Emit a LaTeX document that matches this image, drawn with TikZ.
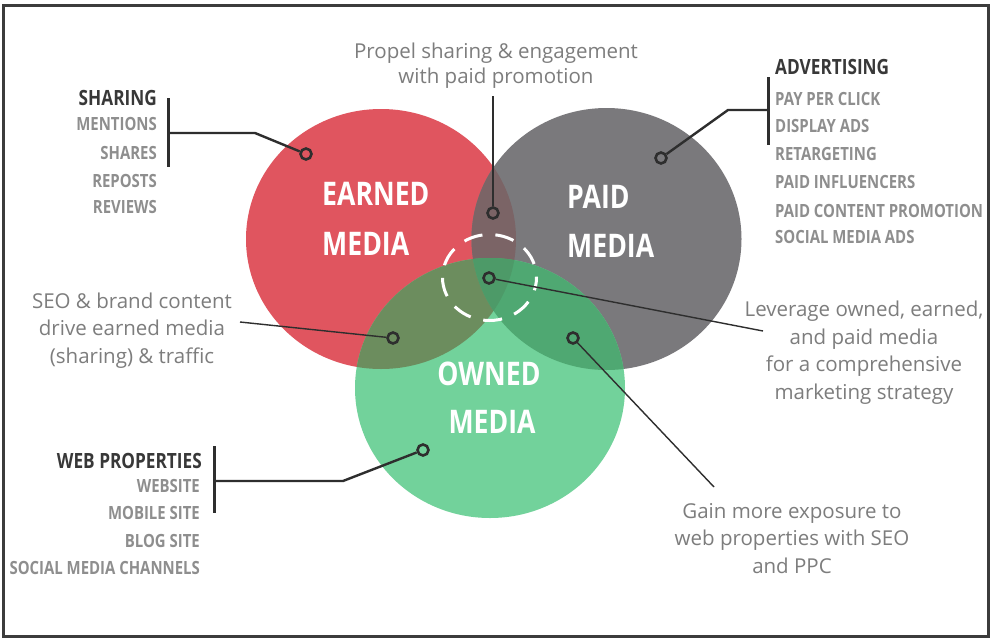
\documentclass[tikz,border=0pt]{standalone}
\usepackage{fontspec}
\setmainfont{Open Sans}
\newfontfamily\condb[FakeStretch=0.82]{Open Sans}

\definecolor{earned}{HTML}{E0555F}
\definecolor{paid}{HTML}{7A797C}
\definecolor{owned}{HTML}{72D29B}
\definecolor{earnpaid}{HTML}{7B6466}
\definecolor{earnown}{HTML}{6C8D5E}
\definecolor{paidown}{HTML}{4FA872}
\definecolor{allthree}{HTML}{4D9A68}
\definecolor{ink}{HTML}{2E2E2E}
\definecolor{headc}{HTML}{383838}
\definecolor{itemc}{HTML}{8E8E8E}
\definecolor{notec}{HTML}{7D7D7D}
\definecolor{framec}{HTML}{3C3C3C}

\begin{document}
\begin{tikzpicture}[x=1pt,y=-1pt,
  marker/.style={circle, draw=ink, line width=2.6pt, minimum size=11pt, inner sep=0pt},
  hook/.style={draw=ink, line width=2.4pt},
  bracket/.style={draw=ink, line width=3pt},
  pointer/.style={draw=ink, line width=1.4pt},
  head/.style={font=\condb\bfseries\fontsize{21}{21}\selectfont, text=headc, inner sep=0pt},
  item/.style={font=\condb\bfseries\fontsize{18.2}{18}\selectfont, text=itemc, inner sep=0pt},
  big/.style={font=\condb\bfseries\fontsize{32.5}{49}\selectfont, text=white, inner sep=0pt},
  note/.style={font=\fontsize{20.5}{27.5}\selectfont, text=notec, align=center, inner sep=0pt}
]
\useasboundingbox (0,0) rectangle (994,643);
\fill[white] (0,0) rectangle (994,643);
\draw[framec, line width=2.5pt] (3.5,5.5) rectangle (988.5,636.5);

% the three media circles
\def\redC{(381,239) ellipse [x radius=135, y radius=130]}
\def\grayC{(606.5,239) ellipse [x radius=135, y radius=131]}
\def\greenC{(490,388) ellipse [x radius=135, y radius=130]}
\fill[earned] \redC;
\fill[paid] \grayC;
\fill[owned] \greenC;
\begin{scope}
  \clip \redC;
  \fill[earnpaid] \grayC;
  \fill[earnown] \greenC;
\end{scope}
\begin{scope}
  \clip \grayC;
  \fill[paidown] \greenC;
  \clip \redC;
  \fill[allthree] \greenC;
\end{scope}

% dashed ring around the shared centre
\draw[white, line width=3pt, dash pattern=on 19pt off 13pt, dash phase=6pt]
  (489.5,277.5) ellipse [x radius=47, y radius=43];

% circle labels
\node[big, anchor=base west] (earnedA) at (322,205) {EARNED};
\node[big, anchor=base west] (earnedB) at (322,255) {MEDIA};
\node[big, anchor=base west] (paidA) at (567,208) {PAID};
\node[big, anchor=base west] (paidB) at (567,257) {MEDIA};
\node[big, anchor=base] (ownedA) at (489,385) {OWNED};
\node[big, anchor=base] (ownedB) at (492,433) {MEDIA};

% markers
\node[marker] (mEarned) at (306,154) {};
\node[marker] (mPaid) at (661,158) {};
\node[marker] (mEP) at (493,213) {};
\node[marker] (mAll) at (489,278) {};
\node[marker] (mEO) at (393,338) {};
\node[marker] (mPO) at (573,338) {};
\node[marker] (mOwned) at (423,450) {};

% SHARING list
\node[head, anchor=base east] (shHead) at (157,105) {SHARING};
\node[item, anchor=base east] (sh1) at (157,130) {MENTIONS};
\node[item, anchor=base east] (sh2) at (157,159) {SHARES};
\node[item, anchor=base east] (sh3) at (157,187) {REPOSTS};
\node[item, anchor=base east] (sh4) at (157,213) {REVIEWS};
\coordinate (shTop) at (168,98);
\coordinate (shBot) at (168,167);
\coordinate (shMid) at (168,133);
\coordinate (shKnee) at (255,133);
\draw[bracket] (shTop) -- (shBot);
\draw[hook] (shMid) -- (shKnee) -- (mEarned);

% ADVERTISING list
\node[head, anchor=base west] (adHead) at (775,74) {ADVERTISING};
\node[item, anchor=base west] (ad1) at (775,105) {PAY PER CLICK};
\node[item, anchor=base west] (ad2) at (775,132) {DISPLAY ADS};
\node[item, anchor=base west] (ad3) at (775,160) {RETARGETING};
\node[item, anchor=base west] (ad4) at (775,188) {PAID INFLUENCERS};
\node[item, anchor=base west] (ad5) at (775,217) {PAID CONTENT PROMOTION};
\node[item, anchor=base west] (ad6) at (775,243) {SOCIAL MEDIA ADS};
\coordinate (adTop) at (768,77);
\coordinate (adBot) at (768,145);
\coordinate (adMid) at (768,110);
\coordinate (adKnee) at (728,110);
\draw[bracket] (adTop) -- (adBot);
\draw[hook] (adMid) -- (adKnee) -- (mPaid);

% WEB PROPERTIES list
\node[head, anchor=base east] (wpHead) at (202,468) {WEB PROPERTIES};
\node[item, anchor=base east] (wp1) at (200,492) {WEBSITE};
\node[item, anchor=base east] (wp2) at (200,519) {MOBILE SITE};
\node[item, anchor=base east] (wp3) at (200,547) {BLOG SITE};
\node[item, anchor=base east] (wp4) at (200,574) {SOCIAL MEDIA CHANNELS};
\coordinate (wpTop) at (214,446);
\coordinate (wpBot) at (214,513);
\coordinate (wpMid) at (214,481);
\coordinate (wpKnee) at (343,481);
\draw[bracket] (wpTop) -- (wpBot);
\draw[hook] (wpMid) -- (wpKnee) -- (mOwned);

% notes (anchored on the baseline of their last line)
\node[note, anchor=base, font=\fontsize{20.5}{25}\selectfont] (propel) at (496,83)
  {Propel sharing \& engagement\\with paid promotion};
\node[note, anchor=base] (seo) at (132,363)
  {SEO \& brand content\\drive earned media\\(sharing) \& traffic};
\node[note, anchor=base] (leverage) at (864,399)
  {Leverage owned, earned,\\and paid media\\for a comprehensive\\marketing strategy};
\node[note, anchor=base] (gain) at (792,573)
  {Gain more exposure to\\web properties with SEO\\and PPC};

\coordinate (propelEnd) at (493,96);
\coordinate (seoEnd) at (240,322);
\coordinate (leverageEnd) at (763,331);
\coordinate (gainEnd) at (714,487);
\draw[pointer] (propelEnd) -- (mEP);
\draw[pointer] (seoEnd) -- (mEO);
\draw[pointer] (mAll) -- (leverageEnd);
\draw[pointer] (mPO) -- (gainEnd);
\end{tikzpicture}
\end{document}
